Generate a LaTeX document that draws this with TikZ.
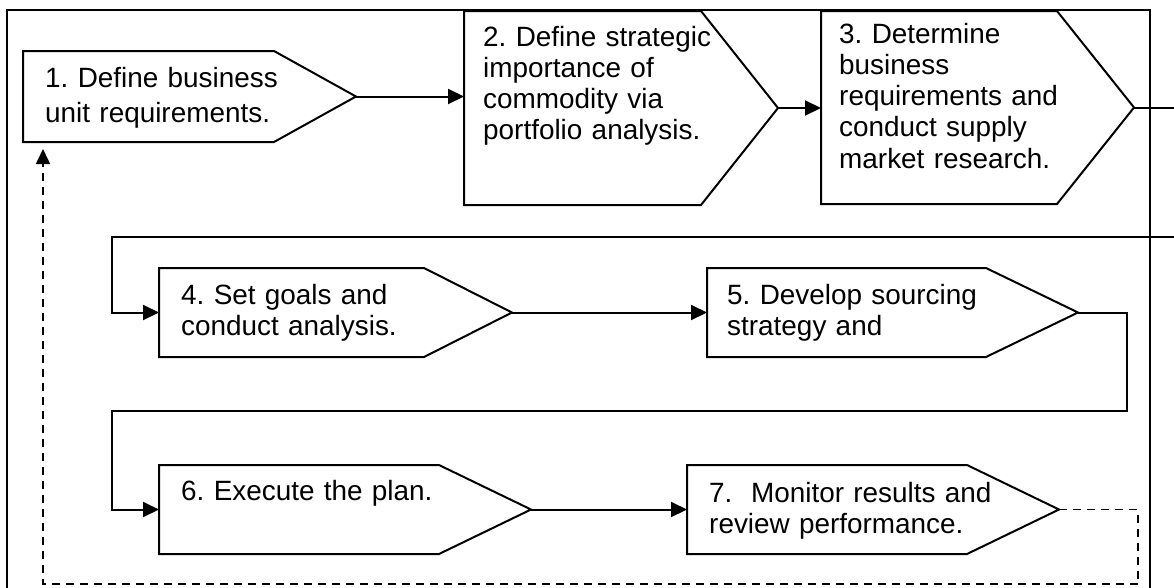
\documentclass[tikz,border=0pt]{standalone}
\usepackage{fontspec}
\setmainfont{Liberation Sans}
\usetikzlibrary{arrows.meta}
\frenchspacing

\begin{document}
\begin{tikzpicture}[x=1pt, y=-1pt,
		stepline/.style = {line width = 2pt, line join = miter},
		steptext/.style = {anchor = base west, inner sep = 0pt, text width = 400pt, align = left,
			font = \fontsize{27.9}{31.3}\selectfont},
		flow/.style = {line width = 2pt, -{Triangle[length = 16pt, width = 15pt]}},
		back/.style = {line width = 1.6pt, dash pattern = on 8pt off 6pt}]
				\clip (0,0) rectangle (1174,587);
				\fill[white] (0,0) rectangle (1174,587);
				% frame
				\draw[line width = 2.4pt] (7,10) rectangle (1150,620);
				% step shapes: name/left/top/right/tip/bottom
				\foreach \n/\l/\t/\r/\p/\b in {1/23/51/274/356/142, 2/464/11/701/778/205, 3/821/11/1057/1134/204,
					4/159/268/424/512/357, 5/707/268/986/1078/357, 6/159/465/439/531/554, 7/687/465/967/1059/554}{
					\draw[stepline] (\l,\t) coordinate (b\n nw) -- (\r,\t) -- ({\p},{(\t+\b)/2}) coordinate (b\n tip)
						-- (\r,\b) -- (\l,\b) coordinate (b\n sw) -- cycle;
				}
				\node[steptext, font = \fontsize{27.9}{35}\selectfont] (t1) at (45,87) {1. Define business\\unit requirements.};
				\node[steptext] (t2) at (483,46) {2. Define strategic\\importance of\\commodity via\\portfolio analysis.};
				\node[steptext] (t3) at (839,43) {3. Determine\\business\\requirements and\\conduct supply\\market research.};
				\node[steptext] (t4) at (181,304) {4. Set goals and\\conduct analysis.};
				\node[steptext] (t5) at (727,304) {5. Develop sourcing\\strategy and};
				\node[steptext] (t6) at (181,500) {6. Execute the plan.};
				\node[steptext] (t7) at (709,502) {7.\ \ Monitor results and\\review performance.};
				% connectors
				\draw[flow] (b1tip) -- (b1tip -| b2nw);
				\draw[flow] (b2tip) -- (b2tip -| b3nw);
				\draw[flow] (b3tip) -- (1195,107.5) |- (112,237) |- (b4tip -| b4nw);
				\draw[flow] (b4tip) -- (b4tip -| b5nw);
				\draw[flow] (b5tip) -- (1127,312.5) |- (112,411) |- (b6tip -| b6nw);
				\draw[flow] (b6tip) -- (b6tip -| b7nw);
				\coordinate (ret) at (43,149);
				\draw[back, -{Triangle[length = 15pt, width = 14pt]}] (b7tip) -- (1138,509.5) |- (43,584) -- (ret);
\end{tikzpicture}
\end{document}
